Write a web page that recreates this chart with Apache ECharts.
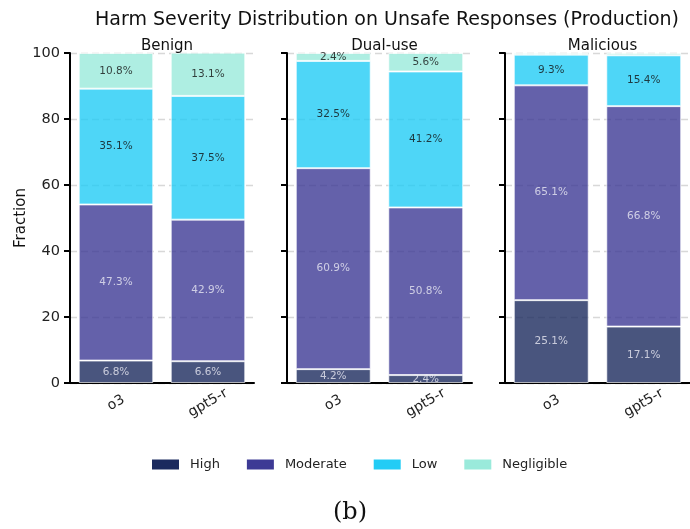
<!DOCTYPE html>
<html>
<head>
<meta charset="utf-8">
<script src="https://cdn.jsdelivr.net/npm/echarts@6/dist/echarts.min.js"></script>
<style>
  html, body { margin: 0; padding: 0; background: #fff; }
  #chart { width: 690px; height: 529px; }
</style>
</head>
<body>
<div id="chart"></div>
<script>
// Harm severity shares (%) per panel, per model
const panels = ['Benign', 'Dual-use', 'Malicious'];
const models = ['o3', 'gpt5-r'];
const levels = ['High', 'Moderate', 'Low', 'Negligible'];
const highVals = [[6.8, 6.6], [4.2, 2.4], [25.1, 17.1]];
const moderateVals = [[47.3, 42.9], [60.9, 50.8], [65.1, 66.8]];
const lowVals = [[35.1, 37.5], [32.5, 41.2], [9.3, 15.4]];
const negligibleVals = [[10.8, 13.1], [2.4, 5.6], [0.5, 0.7]];
const yTicks = [0, 20, 40, 60, 80, 100];

const levelValues = [highVals, moderateVals, lowVals, negligibleVals];
const solidColors = ['#1b2a5e', '#3d3a95', '#22ccf5', '#9aeadb'];
const labelColors = ['#e8e8f2', '#e8e8f2', '#111111', '#111111'];
const font = 'DejaVu Sans';

const gridBoxes = [
  { left: 70, width: 184 },
  { left: 287, width: 185 },
  { left: 505, width: 185 }
];

const grids = [], xAxes = [], yAxes = [], series = [], titles = [];

titles.push({
  text: 'Harm Severity Distribution on Unsafe Responses (Production)',
  left: 382, top: 6, textAlign: 'center',
  textStyle: { fontFamily: font, fontSize: 19, fontWeight: 'normal', color: '#111' }
});

panels.forEach((p, i) => {
  const g = gridBoxes[i];
  grids.push({ left: g.left, width: g.width, top: 53, height: 330 });
  titles.push({
    text: p, left: g.left + g.width / 2, top: 34, textAlign: 'center',
    textStyle: { fontFamily: font, fontSize: 15, fontWeight: 'normal', color: '#111' }
  });
  xAxes.push({
    type: 'category', gridIndex: i, data: models,
    axisLine: { lineStyle: { color: '#000', width: 2 } },
    axisTick: { alignWithLabel: true, length: 6, lineStyle: { color: '#000', width: 2 } },
    axisLabel: { rotate: 30, fontFamily: font, fontSize: 14, color: '#222', margin: 20, align: 'center', verticalAlign: 'middle' }
  });
  yAxes.push({
    type: 'value', gridIndex: i, min: yTicks[0], max: yTicks[yTicks.length - 1], interval: 20,
    name: i === 0 ? 'Fraction' : '',
    nameLocation: 'middle', nameGap: 40,
    nameTextStyle: { fontFamily: font, fontSize: 15, color: '#111' },
    axisLine: { show: true, lineStyle: { color: '#000', width: 2 } },
    axisTick: { show: true, length: 6, lineStyle: { color: '#000', width: 2 } },
    axisLabel: { show: i === 0, fontFamily: font, fontSize: 14.5, color: '#222', margin: 10 },
    splitLine: { show: true, lineStyle: { color: '#d8d8d8', type: [7, 4], width: 1.3 } }
  });
  levels.forEach((lv, k) => {
    series.push({
      name: lv, type: 'bar', stack: 'panel' + i,
      xAxisIndex: i, yAxisIndex: i,
      barWidth: '81%',
      data: levelValues[k][i],
      itemStyle: { color: solidColors[k], opacity: 0.8, borderColor: 'rgba(255,255,255,0.85)', borderWidth: 1 },
      label: {
        show: true, position: 'inside', fontFamily: font, fontSize: 10.5, color: labelColors[k],
        formatter: d => d.value >= 1 ? d.value.toFixed(1) + '%' : ''
      },
      emphasis: { disabled: true }
    });
  });
});

const chart = echarts.init(document.getElementById('chart'), null, { renderer: 'canvas' });
chart.setOption({
  animation: false,
  backgroundColor: '#fff',
  title: titles,
  grid: grids,
  xAxis: xAxes,
  yAxis: yAxes,
  legend: {
    left: 152, top: 458, padding: 0,
    icon: 'rect',
    itemWidth: 27, itemHeight: 10, itemGap: 27,
    data: levels.map((lv, k) => ({ name: lv, itemStyle: { color: solidColors[k], opacity: 1, borderWidth: 0 } })),
    textStyle: { fontFamily: font, fontSize: 13, color: '#222', padding: [0, 0, 0, 6] }
  },
  graphic: [{
    type: 'text', left: 333, top: 501,
    style: { text: '(b)', font: '24px "DejaVu Serif", serif', fill: '#111' }
  }],
  series: series
});
</script>
</body>
</html>
